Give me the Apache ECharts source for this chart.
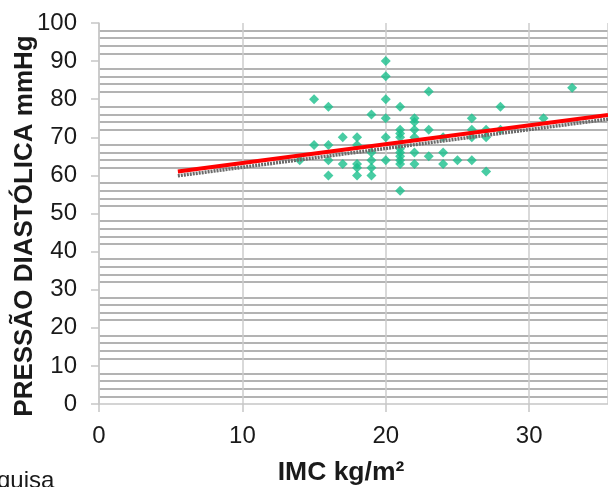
<!DOCTYPE html>
<html><head><meta charset="utf-8">
<script src="https://cdn.jsdelivr.net/npm/echarts@6/dist/echarts.min.js"></script>
<style>html,body{margin:0;padding:0;background:#fff;overflow:hidden}#c{width:608px;height:487px}</style>
</head><body><div id="c"></div>
<script>
// IMC (kg/m2) of each subject
const imcValues = [
  14,
  15, 15,
  16, 16, 16, 16,
  17, 17,
  18, 18, 18, 18, 18,
  19, 19, 19, 19, 19,
  20, 20, 20, 20, 20, 20,
  21, 21, 21, 21, 21, 21, 21, 21, 21, 21,
  22, 22, 22, 22, 22, 22,
  23, 23, 23,
  24, 24, 24,
  25,
  26, 26, 26, 26,
  27, 27, 27,
  28, 28,
  31,
  33
];
// diastolic pressure (mmHg) of each subject
const pdValues = [
  64,
  80, 68,
  78, 68, 64, 60,
  70, 63,
  70, 68, 63, 62, 60,
  76, 66, 64, 62, 60,
  90, 86, 80, 75, 70, 64,
  78, 72, 71, 70, 67, 66, 65, 64, 63, 56,
  75, 74, 72, 70, 66, 63,
  82, 72, 65,
  70, 66, 63,
  64,
  75, 72, 70, 64,
  72, 70, 61,
  78, 72,
  75,
  83
];
// trend line (linear fit) end points and its shadow
const trendX = [5.5, 35.5];
const trendY = [61.0, 75.85];
const shadowY = [59.9, 74.75];
const yTicks = [0, 10, 20, 30, 40, 50, 60, 70, 80, 90, 100];
const xTicks = [0, 10, 20, 30];

const scatterData = imcValues.map((v, i) => [v, pdValues[i]]);
const trendData = trendX.map((v, i) => [v, trendY[i]]);
const shadowData = trendX.map((v, i) => [v, shadowY[i]]);

const chart = echarts.init(document.getElementById('c'), null, {renderer: 'canvas'});
const axisGray = '#c6c6c6';
const font = '"Liberation Sans", Arial, sans-serif';
chart.setOption({
  animation: false,
  backgroundColor: '#fff',
  grid: {left: 99, right: -6, top: 23, bottom: 83, containLabel: false},
  xAxis: {
    type: 'value', min: xTicks[0], max: 35.5, interval: 10,
    axisLine: {show: true, onZero: false, lineStyle: {color: axisGray, width: 1.5}},
    axisTick: {show: true, length: 8, lineStyle: {color: axisGray, width: 1.5}},
    axisLabel: {fontSize: 24, color: '#1a1a1a', fontFamily: font, margin: 20, showMaxLabel: false,
      formatter: v => xTicks.includes(v) ? String(v) : ''},
    splitLine: {show: true, lineStyle: {color: '#cdcdcd', width: 1.5}}
  },
  yAxis: {
    type: 'value', min: yTicks[0], max: yTicks[yTicks.length - 1], interval: 10,
    axisLine: {show: true, lineStyle: {color: axisGray, width: 1.5}},
    axisTick: {show: true, length: 8, lineStyle: {color: axisGray, width: 1.5}},
    axisLabel: {fontSize: 24, color: '#1a1a1a', fontFamily: font, margin: 22},
    splitLine: {show: false},
    minorTick: {show: false, splitNumber: 5},
    minorSplitLine: {show: true, lineStyle: {color: '#9a9a9a', width: 1.5}}
  },
  series: [
    {type: 'scatter', data: scatterData, symbol: 'diamond', symbolSize: [10, 10],
      itemStyle: {color: '#1abf8c'}, z: 2},
    {type: 'line', data: shadowData, symbol: 'none', z: 3,
      lineStyle: {color: '#6a6a6a', width: 3.5, type: [2, 1]}},
    {type: 'line', data: trendData, symbol: 'none', z: 4,
      lineStyle: {color: '#ff0000', width: 4}}
  ],
  graphic: [
    {type: 'text', x: 25, y: 226, rotation: Math.PI / 2,
      style: {text: 'PRESSÃO DIASTÓLICA mmHg', fontSize: 26, fontWeight: 'bold', fontFamily: font,
        fill: '#1a1a1a', align: 'center', verticalAlign: 'middle'}},
    {type: 'text', x: 341, y: 473,
      style: {text: 'IMC kg/m²', fontSize: 26.5, fontWeight: 'bold', fontFamily: font,
        fill: '#1a1a1a', align: 'center', verticalAlign: 'middle'}},
    {type: 'text', x: -3, y: 493,
      style: {text: 'quisa', fontSize: 24, fontFamily: font,
        fill: '#1a1a1a', align: 'left', verticalAlign: 'bottom'}}
  ]
});
</script>
</body></html>
